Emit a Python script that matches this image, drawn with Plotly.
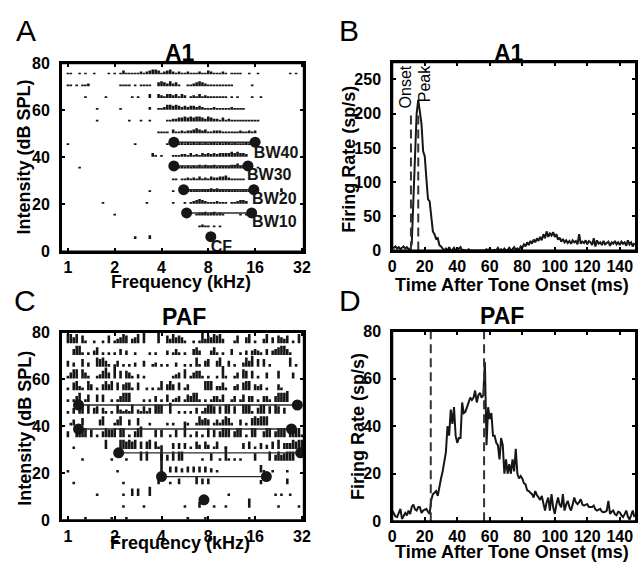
import math
import plotly.graph_objects as go

W, H = 644, 572
def px(x): return x / W
def py(y): return 1 - y / H

FONT = "Liberation Sans"

# ---------------- data ----------------
STEPS_PER_OCTAVE = 16          # stimulus frequency grid, 1 kHz .. 32 kHz
N_FREQ = 81
A_LEVELS = [75, 70, 65, 60, 55, 50, 45, 40, 35, 30, 25, 20, 15, 10, 5]
A_RASTER = [
    "1100101001 0000101013 1111121234 4312342121 1211121132 1112101111 0010010000 0000001010 0",
    "1101011200 0000000011 1101011110 0343242310 0112343211 1111111000 0001000000 0000000000 0",
    "0000001000 0001000000 0010100030 0321332313 2012131211 1111101010 0001001000 0000000000 0",
    "0000000000 1000000010 0000000020 0112443432 3233232111 2111112111 1000000000 0000000000 0",
    "0000000000 1000000000 0100010010 0000112233 4343443243 2213121111 1111110000 0000000000 0",
    "0000000000 0000000000 0000000000 0111103112 1223432311 2221111112 1121200000 0000000000 0",
    "1000000000 0000000000 0001000000 0000111212 1212121212 2121221211 1212000000 0000000000 0",
    "0000000000 0000000000 0000000003 1010001112 2131213232 3233334343 3200000000 0000000000 0",
    "0000100000 0000000000 0000000000 0000001212 1212131322 3122223342 3010010000 0000000000 0",
    "0000000000 0000000000 0000000000 0000001101 1212131213 2233421111 1000000000 0000000000 0",
    "0000000000 0000000000 0000000010 0000001000 0121212223 2322121211 2121000000 0003000000 0",
    "0000000000 0010000000 0000000100 0000001000 1012343211 1211101123 3200000000 0000000000 0",
    "0000000000 0000001000 0000000000 0000000000 0000122312 3121000001 0100000000 0000000000 0",
    "0000000000 0000000000 0000000000 0000000000 0000012110 1010000000 0000000000 0000000000 0",
    "0000000000 0000000000 0002000030 0000000000 0000000000 0000000000 0000000000 0000000000 0",
]
C_LEVELS = [75, 70, 65, 60, 55, 50, 45, 40, 35, 30, 25, 20, 15, 10, 5, 0]
C_RASTER = [
    "5535041001 0010401235 4023506000 0600425343 1001016243 5452000140 0350100250 3043240105 0",
    "0035510102 4010101030 2001000010 1000201310 1003420002 4101003001 0202321030 2345531000 0",
    "3020040200 5453100301 0102003001 2010100200 1010510340 0350030100 2536040401 0000005010 0",
    "1355053100 1246308040 4310201000 0000001230 5013441010 0107100130 5404010030 0040000300 0",
    "1045210530 1035350403 4410400101 0150353040 1300000555 0224100230 4550323010 0031000000 0",
    "1013501400 4040010135 5500001010 3010401230 1435510101 3314001301 4033010331 0355560000 0",
    "1030450503 4031010521 2150214130 5550060010 1010301355 4040550400 5551035504 0540300000 0",
    "0130040000 0350001350 0300400010 0000101000 0100153430 1313541003 0104545550 0000000000 0",
    "3004555040 1035445055 0103560000 4040010400 9010301050 4035550355 0105500355 0355503555 1",
    "0010000000 0005000055 4545040450 4100003030 3010420420 1400100000 3040103020 4050333545 5",
    "0000010000 0000010000 1000050500 0040305055 0000001004 0010810101 0000400005 0353455500 0",
    "1000000000 0000000100 0000000000 00g0030302 0303030302 0100000000 0000004100 1000010000 0",
    "0010000000 0000000001 0000000000 0300010030 0000403030 0000000000 0000002000 0000030000 0",
    "0000000000 1000000001 0040400050 0000000000 0000000000 0000010000 0000000000 0101001000 0",
    "0000000000 0000000001 0000001000 0000000000 1000030000 1000100000 0050000000 0010000001 0",
    "0000001000 0000010000 1000000000 0000000000 0100000100 0000000000 0010000000 0000000000 0",
]
A_BAR_UNIT = 0.45   # dB per spike count
C_BAR_UNIT = 0.7

A_BW_DB = [16.4, 26.3, 36.4, 46.5]
A_BW_LO = [5.8, 5.55, 4.8, 4.8]
A_BW_HI = [15.2, 15.7, 14.4, 16.0]
A_CF_KHZ, A_CF_DB = 8.3, 6.3
A_LABEL_KHZ = [15.3, 15.3, 14.2, 15.7, 8.3]
A_LABEL_DB = [12.1, 22.0, 32.1, 41.6, 1.6]
A_LABEL_TEXT = ["BW10", "BW20", "BW30", "BW40", "CF"]

C_BW_DB = [18.6, 28.7, 38.8, 49.0]
C_BW_LO = [4.0, 2.12, 1.17, 1.17]
C_BW_HI = [18.9, 31.4, 27.4, 29.9]
C_CF_KHZ, C_CF_DB = 7.5, 8.7

FREQ_TICKS = [1, 2, 4, 8, 16, 32]

B_RATE = [5, 4, 6, 3, 5, 2, 4, 6, 3, 5, 2, 1, 10, 70, 150, 200, 220, 205, 185, 145,
          138, 105, 75, 72, 45, 28, 24, 17, 18, 8, 6, 2, 0, 3, 0, 5, 0, 1, 4, 0,
          0, 3, 5, 0, 1, 0, 0, 2, 0, 0, 0, 0, 1, 0, 0, 0, 0, 0, 2, 0,
          3, 0, 0, 1, 0, 4, 0, 2, 0, 3, 0, 1, 4, 0, 2, 5, 1, 3, 0, 6,
          4, 9, 6, 12, 8, 14, 10, 16, 12, 18, 14, 20, 15, 24, 18, 28, 20, 25, 22, 27,
          20, 24, 16, 19, 13, 17, 12, 15, 11, 14, 10, 15, 12, 14, 9, 24, 10, 13, 11, 15,
          9, 14, 12, 8, 18, 6, 15, 10, 12, 8, 14, 9, 11, 13, 7, 12, 10, 14, 9, 12,
          8, 13, 10, 12, 7, 15, 9, 12, 6, 11]
B_ONSET_MS, B_PEAK_MS = 11.5, 16.0
B_MARK_TOP = 200

D_RATE = [4.5, 3, 2, 1.8, 4, 5.2, 1, 2, 3.5, 2.5, 4.5, 3, 6, 7, 5, 4.5, 6, 5.9, 3.5, 4.5,
          5, 5.2, 4, 3.1, 9, 11.4, 12, 12.7, 10.7, 15, 18, 21, 25, 29, 40, 36, 47, 41, 48, 36,
          33, 35, 35, 50, 45.5, 46, 48, 50, 52, 51, 52, 55, 50, 53, 54, 52, 53, 67, 32, 48,
          43, 45.5, 36, 36, 33, 32, 26, 35, 32, 20, 26, 20, 24, 20, 26, 21, 30.5, 20, 18, 19,
          18, 16, 15.5, 13, 12.7, 12, 11.4, 10, 12.7, 11, 10, 9, 10.7, 7, 4.5, 8, 10, 4.5, 11.4, 6,
          3.1, 7, 10, 7, 5.9, 11.4, 4.5, 7, 8.6, 6, 4.5, 7, 10, 8, 7.2, 8, 9.3, 7, 6.6, 7,
          7.2, 6, 5.9, 6, 6.6, 5, 4.5, 5, 5.2, 4, 3.8, 4, 4.5, 8.6, 3.1, 4, 4.5, 3, 2.5, 4,
          3.8, 2.5, 1.8, 3, 4.5, 2, 0.7, 2.5, 4.5, 1.8]
D_ONSET_MS, D_PEAK_MS = 23.7, 56.5

TIME_TICKS = [0, 20, 40, 60, 80, 100, 120, 140]

# ---------------- figure ----------------
fig = go.Figure()
INK = "#161616"


def raster_trace(rows, levels, unit, xa, ya):
    xs, ys = [], []
    freqs = [2 ** (i / STEPS_PER_OCTAVE) for i in range(N_FREQ)]
    for row, lev in zip(rows, levels):
        s = row.replace(" ", "")
        s = (s + "0" * N_FREQ)[:N_FREQ]
        for i, ch in enumerate(s):
            c = int(ch, 36)
            if c <= 0:
                continue
            base = lev + 0.3
            xs += [freqs[i], freqs[i], None]
            ys += [base, base + (c + 0.6) * unit, None]
    return go.Scatter(x=xs, y=ys, mode="lines", line=dict(color=INK, width=2.6),
                      xaxis=xa, yaxis=ya, hoverinfo="skip", showlegend=False)


def bw_trace(lo, hi, db, cfk, cfd, xa, ya, lw):
    xs, ys = [], []
    for a, b, d in zip(lo, hi, db):
        xs += [a, b, None]
        ys += [d, d, None]
    t1 = go.Scatter(x=xs, y=ys, mode="lines", line=dict(color="#2a2a2a", width=lw),
                    xaxis=xa, yaxis=ya, showlegend=False, hoverinfo="skip")
    mx = [v for pair in zip(lo, hi) for v in pair] + [cfk]
    my = [v for d in db for v in (d, d)] + [cfd]
    t2 = go.Scatter(x=mx, y=my, mode="markers", marker=dict(color=INK, size=11),
                    xaxis=xa, yaxis=ya, showlegend=False, hoverinfo="skip")
    return [t1, t2]


fig.add_trace(raster_trace(A_RASTER, A_LEVELS, A_BAR_UNIT, "x", "y"))
for t in bw_trace(A_BW_LO, A_BW_HI, A_BW_DB, A_CF_KHZ, A_CF_DB, "x", "y", 1.5):
    fig.add_trace(t)
fig.add_trace(go.Scatter(x=A_LABEL_KHZ, y=A_LABEL_DB, text=A_LABEL_TEXT, mode="text",
                         textposition="middle right", cliponaxis=True,
                         textfont=dict(family=FONT, size=16, color=INK, weight="bold"),
                         xaxis="x", yaxis="y", showlegend=False, hoverinfo="skip"))

fig.add_trace(raster_trace(C_RASTER, C_LEVELS, C_BAR_UNIT, "x3", "y3"))
for t in bw_trace(C_BW_LO, C_BW_HI, C_BW_DB, C_CF_KHZ, C_CF_DB, "x3", "y3", 1.3):
    fig.add_trace(t)

time_ms = list(range(len(B_RATE)))
fig.add_trace(go.Scatter(x=time_ms, y=B_RATE, mode="lines", line=dict(color=INK, width=2),
                         xaxis="x2", yaxis="y2", showlegend=False))
fig.add_trace(go.Scatter(x=[B_ONSET_MS, B_ONSET_MS, None, B_PEAK_MS, B_PEAK_MS],
                         y=[0, B_MARK_TOP, None, 0, B_MARK_TOP], mode="lines",
                         line=dict(color="#333", width=2, dash="9px,5px"),
                         xaxis="x2", yaxis="y2", showlegend=False))

time_d = list(range(len(D_RATE)))
fig.add_trace(go.Scatter(x=time_d, y=D_RATE, mode="lines", line=dict(color=INK, width=2),
                         xaxis="x4", yaxis="y4", showlegend=False))
fig.add_trace(go.Scatter(x=[D_ONSET_MS, D_ONSET_MS, None, D_PEAK_MS, D_PEAK_MS],
                         y=[0, 80, None, 0, 80], mode="lines",
                         line=dict(color="#333", width=2, dash="9px,5px"),
                         xaxis="x4", yaxis="y4", showlegend=False))

tickfont = dict(family=FONT, size=16, color="black", weight="bold")
base_ax = dict(showline=True, linewidth=2, linecolor="black", mirror="ticks",
               ticks="inside", ticklen=4, tickwidth=1.5, tickcolor="black",
               showgrid=False, zeroline=False, tickfont=tickfont)
x_ax = dict(base_ax, ticklabelstandoff=0)
y_ax = dict(base_ax, ticklabelstandoff=6)

freq_rng = [math.log10(0.903), math.log10(32.9)]

BOX_A = (58, 305, 57, 251)
BOX_B = (395, 643, 56, 250)
BOX_C = (58, 305, 334, 528)
BOX_D = (395, 643, 333, 529)

fig.update_layout(
    width=W, height=H, margin=dict(l=0, r=0, t=0, b=0, pad=0),
    paper_bgcolor="white", plot_bgcolor="white", showlegend=False,
    xaxis=dict(x_ax, type="log", range=freq_rng, tickvals=FREQ_TICKS,
               ticktext=[str(v) for v in FREQ_TICKS],
               domain=[px(BOX_A[0]), px(BOX_A[1])], anchor="y"),
    yaxis=dict(y_ax, range=[0, 80], tickvals=[0, 20, 40, 60, 80],
               domain=[py(BOX_A[3]), py(BOX_A[2])], anchor="x"),
    xaxis2=dict(x_ax, range=[0, 150], tickvals=TIME_TICKS,
                domain=[px(BOX_B[0]), px(BOX_B[1])], anchor="y2"),
    yaxis2=dict(y_ax, range=[0, 275], tickvals=[0, 50, 100, 150, 200, 250],
                domain=[py(BOX_B[3]), py(BOX_B[2])], anchor="x2"),
    xaxis3=dict(x_ax, type="log", range=freq_rng, tickvals=FREQ_TICKS,
                ticktext=[str(v) for v in FREQ_TICKS],
                domain=[px(BOX_C[0]), px(BOX_C[1])], anchor="y3"),
    yaxis3=dict(y_ax, range=[0, 80], tickvals=[0, 20, 40, 60, 80],
                domain=[py(BOX_C[3]), py(BOX_C[2])], anchor="x3"),
    xaxis4=dict(x_ax, range=[0, 150], tickvals=TIME_TICKS,
                domain=[px(BOX_D[0]), px(BOX_D[1])], anchor="y4"),
    yaxis4=dict(y_ax, range=[0, 80], tickvals=[0, 20, 40, 60, 80],
                domain=[py(BOX_D[3]), py(BOX_D[2])], anchor="x4"),
)

shapes = []
for (x0, x1, y0, y1) in (BOX_A, BOX_B, BOX_C, BOX_D):
    shapes.append(dict(type="rect", xref="paper", yref="paper",
                       x0=px(x0), x1=px(x1), y0=py(y1), y1=py(y0),
                       line=dict(color="black", width=2), fillcolor="rgba(0,0,0,0)",
                       layer="above"))

ann = []
def txt(s, x, y, size, bold=True, angle=0):
    ann.append(dict(text=s, x=px(x), y=py(y), xref="paper", yref="paper",
                    xanchor="center", yanchor="middle", showarrow=False, textangle=angle,
                    font=dict(family=FONT, size=size, color="black",
                              weight="bold" if bold else "normal")))

# panel letters
txt("A", 22, 23, 30, bold=False)
txt("B", 351, 23, 30, bold=False)
txt("C", 21, 301, 30, bold=False)
txt("D", 352, 301, 30, bold=False)
# panel titles
txt("A1", 179, 46, 23)
txt("A1", 514, 46, 23)
txt("PAF", 183, 318, 23)
txt("PAF", 507, 317, 23)
# axis titles
txt("Intensity (dB SPL)", 20.5, 154, 18, angle=-90)
txt("Firing Rate (sp/s)", 351.5, 156, 18, angle=-90)
txt("Intensity (dB SPL)", 22, 433, 18, angle=-90)
txt("Firing Rate (sp/s)", 360, 431, 18, angle=-90)
txt("Frequency (kHz)", 180, 282, 18)
txt("Time After Tone Onset (ms)", 517, 285, 18)
txt("Frequency (kHz)", 179, 551, 18)
txt("Time After Tone Onset (ms)", 517, 561, 18)

# Onset / Peak labels in panel B
for s, t in [("Onset", 8.4), ("Peak", 20.0)]:
    ann.append(dict(text=s, x=t, y=274, xref="x2", yref="y2", showarrow=False,
                    textangle=-90, xanchor="center", yanchor="top",
                    font=dict(family=FONT, size=16, color="black")))

fig.update_layout(annotations=ann, shapes=shapes)
fig.write_html("out.html", config={"displayModeBar": False},
               post_script="document.body.style.margin='0';document.body.style.overflow='hidden';")
